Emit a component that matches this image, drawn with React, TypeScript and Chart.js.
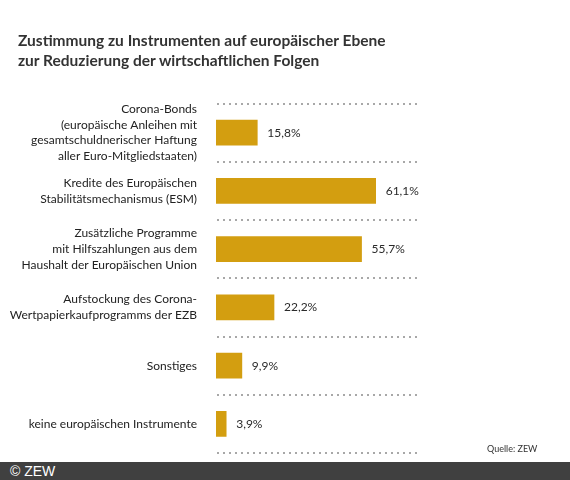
import React, { useEffect, useRef } from "react";
import { Chart, registerables } from "chart.js";

Chart.register(...registerables);

const titleLines = [
  "Zustimmung zu Instrumenten auf europäischer Ebene",
  "zur Reduzierung der wirtschaftlichen Folgen",
];

const categories: (string | string[])[] = [
  ["Corona-Bonds", "(europäische Anleihen mit", "gesamtschuldnerischer Haftung", "aller Euro-Mitgliedstaaten)"],
  ["Kredite des Europäischen", "Stabilitätsmechanismus (ESM)"],
  ["Zusätzliche Programme", "mit Hilfszahlungen aus dem", "Haushalt der Europäischen Union"],
  ["Aufstockung des Corona-", "Wertpapierkaufprogramms der EZB"],
  "Sonstiges",
  "keine europäischen Instrumente",
];

const values = [15.8, 61.1, 55.7, 22.2, 9.9, 3.9];

const axisMax = 77.3;
const sourceText = "Quelle: ZEW";
const copyrightText = "© ZEW";

const FONT = "Lato, 'Open Sans', sans-serif";

const fmt = (v: number) => v.toFixed(1).replace(".", ",") + "%";

const valueLabelPlugin = {
  id: "valueLabels",
  afterDatasetsDraw(chart: any) {
    const ctx = chart.ctx;
    const meta = chart.getDatasetMeta(0);
    ctx.save();
    ctx.font = `12px ${FONT}`;
    ctx.fillStyle = "#2a2a2a";
    ctx.textAlign = "left";
    ctx.textBaseline = "middle";
    meta.data.forEach((bar: any, i: number) => {
      ctx.fillText(fmt(values[i]), bar.x + 10, bar.y);
    });
    ctx.restore();
  },
};

// dotted separators between categories, positioned from the y scale
const dottedGridPlugin = {
  id: "dottedGrid",
  beforeDatasetsDraw(chart: any) {
    const ctx = chart.ctx;
    const y = chart.scales.y;
    const area = chart.chartArea;
    const n = categories.length;
    ctx.save();
    ctx.strokeStyle = "#a8a8a8";
    ctx.lineWidth = 2;
    ctx.setLineDash([2, 4]);
    for (let i = 0; i <= n; i++) {
      const py = Math.round(y.getPixelForValue(i - 0.5));
      ctx.beginPath();
      ctx.moveTo(area.left + 1, py);
      ctx.lineTo(area.right, py);
      ctx.stroke();
    }
    ctx.restore();
  },
};

export default function App() {
  const ref = useRef<HTMLCanvasElement | null>(null);

  useEffect(() => {
    if (!ref.current) return;
    const chart = new Chart(ref.current, {
      type: "bar",
      data: {
        labels: categories,
        datasets: [
          {
            data: values,
            backgroundColor: "#D39E10",
            borderWidth: 0,
            barThickness: 25,
          },
        ],
      },
      options: {
        indexAxis: "y",
        animation: false,
        responsive: false,
        maintainAspectRatio: false,
        layout: { padding: { left: 0, right: 152, top: 103.5, bottom: 27 } },
        plugins: {
          legend: { display: false },
          tooltip: { enabled: false },
          title: { display: false },
        },
        scales: {
          x: {
            display: false,
            min: 0,
            max: axisMax,
          },
          y: {
            afterFit(scale: any) {
              scale.width = 216;
              scale.paddingTop = 0;
              scale.paddingBottom = 0;
            },
            border: { display: false },
            grid: { display: false },
            ticks: {
              autoSkip: false,
              padding: 11,
              color: "#222222",
              font: { family: FONT, size: 12, lineHeight: 1.3 },
            },
          },
        },
      },
      plugins: [dottedGridPlugin, valueLabelPlugin],
    } as any);
    return () => chart.destroy();
  }, []);

  return (
    <div
      style={{
        position: "fixed",
        left: 0,
        top: 0,
        width: 570,
        height: 480,
        background: "#ffffff",
        fontFamily: FONT,
        overflow: "hidden",
      }}
    >
      <canvas ref={ref} width={570} height={480} style={{ position: "absolute", left: 0, top: 0 }} />
      <div
        style={{
          position: "absolute",
          left: 18,
          top: 31,
          fontSize: 15.5,
          lineHeight: "19.5px",
          fontWeight: 700,
          color: "#333333",
        }}
      >
        {titleLines.map((t) => (
          <div key={t}>{t}</div>
        ))}
      </div>
      <div
        style={{
          position: "absolute",
          left: 487,
          top: 443,
          fontSize: 9,
          color: "#333333",
        }}
      >
        {sourceText}
      </div>
      <div
        style={{
          position: "absolute",
          left: 0,
          top: 462,
          width: 570,
          height: 18,
          background: "#404040",
          color: "#ffffff",
          fontFamily: "'Liberation Sans', Arial, sans-serif",
          fontSize: 14,
          lineHeight: "18px",
          paddingLeft: 10,
          boxSizing: "border-box",
        }}
      >
        {copyrightText}
      </div>
    </div>
  );
}
